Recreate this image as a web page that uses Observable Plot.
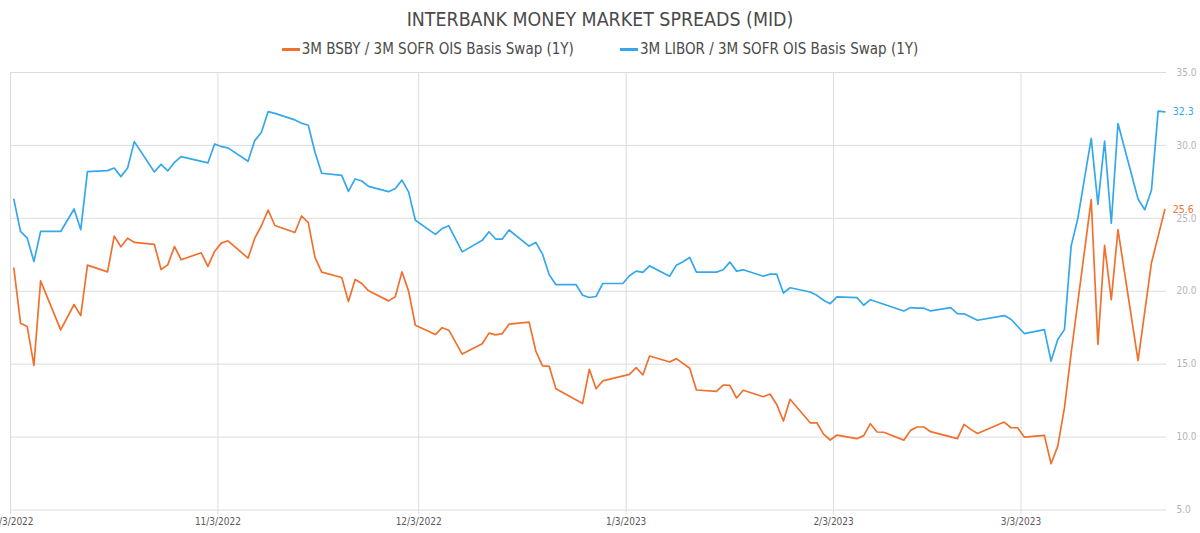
<!DOCTYPE html>
<html>
<head>
<meta charset="utf-8">
<script src="https://cdn.jsdelivr.net/npm/d3@7"></script>
<script src="https://cdn.jsdelivr.net/npm/@observablehq/plot@0.6"></script>
<style>
  html, body { margin: 0; padding: 0; background: #ffffff; }
  body { width: 1200px; height: 533px; overflow: hidden;
         font-family: "Liberation Sans Narrow", "DejaVu Sans Condensed", "Roboto Condensed", Roboto, sans-serif; }
  #header { position: relative; width: 1200px; height: 62px; }
  #title { position: absolute; left: 0; top: 7px; width: 1200px; text-align: center;
           font-size: 19.4px; line-height: 26px; color: #4a4a4a; }
  #legend { position: absolute; left: 0; top: 38px; width: 1200px; display: flex;
            justify-content: center; gap: 46px; font-size: 15px; line-height: 22px; color: #4a4a4a; }
  .item { display: flex; align-items: center; }
  .sw { display: inline-block; width: 18px; height: 3px; margin-right: 2px; }
  #chart svg { display: block; }
</style>
</head>
<body>
<div id="header">
  <div id="title"></div>
  <div id="legend"></div>
</div>
<div id="chart"></div>
<script>
const chartTitle = "INTERBANK MONEY MARKET SPREADS (MID)";
const seriesNames = ["3M BSBY / 3M SOFR OIS Basis Swap (1Y)", "3M LIBOR / 3M SOFR OIS Basis Swap (1Y)"];
const seriesColors = ["#F0712E", "#35A8EC"];

const bsbyDates = ["2022-10-03","2022-10-04","2022-10-05","2022-10-06","2022-10-07","2022-10-10","2022-10-12","2022-10-13","2022-10-14","2022-10-17","2022-10-18","2022-10-19","2022-10-20","2022-10-21","2022-10-24","2022-10-25","2022-10-26","2022-10-27","2022-10-28","2022-10-31","2022-11-01","2022-11-02","2022-11-03","2022-11-04","2022-11-07","2022-11-08","2022-11-09","2022-11-10","2022-11-11","2022-11-14","2022-11-15","2022-11-16","2022-11-17","2022-11-18","2022-11-21","2022-11-22","2022-11-23","2022-11-24","2022-11-25","2022-11-28","2022-11-29","2022-11-30","2022-12-01","2022-12-02","2022-12-05","2022-12-06","2022-12-07","2022-12-09","2022-12-12","2022-12-13","2022-12-14","2022-12-15","2022-12-16","2022-12-19","2022-12-20","2022-12-21","2022-12-22","2022-12-23","2022-12-27","2022-12-28","2022-12-29","2022-12-30","2023-01-03","2023-01-04","2023-01-05","2023-01-06","2023-01-09","2023-01-10","2023-01-12","2023-01-13","2023-01-16","2023-01-17","2023-01-18","2023-01-19","2023-01-20","2023-01-23","2023-01-24","2023-01-25","2023-01-26","2023-01-27","2023-01-30","2023-01-31","2023-02-01","2023-02-02","2023-02-03","2023-02-06","2023-02-07","2023-02-08","2023-02-09","2023-02-10","2023-02-13","2023-02-14","2023-02-15","2023-02-16","2023-02-17","2023-02-21","2023-02-22","2023-02-23","2023-02-24","2023-02-28","2023-03-01","2023-03-02","2023-03-03","2023-03-06","2023-03-07","2023-03-08","2023-03-09","2023-03-10","2023-03-13","2023-03-14","2023-03-15","2023-03-16","2023-03-17","2023-03-20","2023-03-22","2023-03-24"];
const bsbyValues = [21.58,17.81,17.58,14.92,20.71,17.35,19.09,18.33,21.79,21.33,23.78,23.05,23.64,23.35,23.21,21.49,21.81,23.07,22.16,22.64,21.70,22.73,23.30,23.46,22.27,23.64,24.49,25.57,24.51,24.03,25.16,24.70,22.32,21.31,20.94,19.29,20.81,20.53,20.03,19.34,19.62,21.33,19.99,17.67,17.03,17.50,17.33,15.69,16.40,17.13,17.01,17.10,17.74,17.88,15.90,14.88,14.85,13.32,12.31,14.65,13.32,13.85,14.30,14.76,14.26,15.56,15.15,15.38,14.72,13.23,13.14,13.57,13.55,12.68,13.21,12.77,12.95,12.24,11.10,12.59,10.98,10.98,10.20,9.80,10.14,9.89,10.10,10.92,10.35,10.33,9.79,10.46,10.69,10.69,10.37,9.89,10.87,10.53,10.25,11.03,10.64,10.64,10.00,10.12,8.17,9.38,12.00,15.75,26.28,16.35,23.15,19.43,24.22,15.25,21.94,25.60];

const liborDates = ["2022-10-03","2022-10-04","2022-10-05","2022-10-06","2022-10-07","2022-10-10","2022-10-12","2022-10-13","2022-10-14","2022-10-17","2022-10-18","2022-10-19","2022-10-20","2022-10-21","2022-10-24","2022-10-25","2022-10-26","2022-10-27","2022-10-28","2022-11-01","2022-11-02","2022-11-03","2022-11-04","2022-11-07","2022-11-08","2022-11-09","2022-11-10","2022-11-11","2022-11-14","2022-11-15","2022-11-16","2022-11-17","2022-11-18","2022-11-21","2022-11-22","2022-11-23","2022-11-24","2022-11-25","2022-11-28","2022-11-29","2022-11-30","2022-12-01","2022-12-02","2022-12-05","2022-12-06","2022-12-07","2022-12-09","2022-12-12","2022-12-13","2022-12-14","2022-12-15","2022-12-16","2022-12-19","2022-12-20","2022-12-21","2022-12-22","2022-12-23","2022-12-26","2022-12-27","2022-12-28","2022-12-29","2022-12-30","2023-01-02","2023-01-03","2023-01-04","2023-01-05","2023-01-06","2023-01-09","2023-01-10","2023-01-11","2023-01-12","2023-01-13","2023-01-16","2023-01-17","2023-01-18","2023-01-19","2023-01-20","2023-01-23","2023-01-24","2023-01-25","2023-01-26","2023-01-27","2023-01-30","2023-01-31","2023-02-01","2023-02-02","2023-02-03","2023-02-06","2023-02-07","2023-02-08","2023-02-13","2023-02-14","2023-02-15","2023-02-16","2023-02-17","2023-02-20","2023-02-21","2023-02-22","2023-02-24","2023-02-28","2023-03-01","2023-03-03","2023-03-06","2023-03-07","2023-03-08","2023-03-09","2023-03-10","2023-03-11","2023-03-13","2023-03-14","2023-03-15","2023-03-16","2023-03-17","2023-03-20","2023-03-21","2023-03-22","2023-03-23","2023-03-24"];
const liborValues = [26.30,24.10,23.64,22.04,24.10,24.10,25.64,24.22,28.20,28.27,28.45,27.86,28.45,30.26,28.18,28.70,28.25,28.84,29.23,28.80,30.10,29.92,29.83,28.91,30.33,30.90,32.32,32.20,31.75,31.52,31.38,29.53,28.09,27.95,26.85,27.70,27.56,27.19,26.83,27.05,27.62,26.80,24.87,23.90,24.30,24.49,22.70,23.49,24.08,23.58,23.58,24.20,23.10,23.35,22.55,21.13,20.46,20.46,19.73,19.57,19.64,20.53,20.53,21.06,21.38,21.29,21.74,21.03,21.79,22.02,22.32,21.31,21.31,21.47,22.00,21.38,21.47,21.03,21.17,21.17,19.88,20.24,19.95,19.72,19.38,19.15,19.62,19.56,19.04,19.42,18.65,18.88,18.84,18.84,18.65,18.88,18.47,18.45,18.01,18.33,18.08,17.10,17.37,15.21,16.69,17.37,23.10,25.00,30.48,25.96,30.30,24.66,31.50,26.33,25.59,26.92,32.35,32.30];

const xTickLabels = ["2022-10-03","2022-11-03","2022-12-03","2023-01-03","2023-02-03","2023-03-03"];
const yTickValues = [5, 10, 15, 20, 25, 30, 35];

const dayStart = s => new Date(s + "T00:00:00Z");
const atNoon = s => new Date(s + "T12:00:00Z");

const rows = [];
bsbyDates.forEach((d, i) => rows.push({series: seriesNames[0], date: atNoon(d), value: bsbyValues[i]}));
liborDates.forEach((d, i) => rows.push({series: seriesNames[1], date: atNoon(d), value: liborValues[i]}));
const lastPoints = [
  {series: seriesNames[0], date: atNoon(bsbyDates[bsbyDates.length - 1]), value: bsbyValues[bsbyValues.length - 1]},
  {series: seriesNames[1], date: atNoon(liborDates[liborDates.length - 1]), value: liborValues[liborValues.length - 1]}
];
const xTicks = xTickLabels.map(dayStart);
const fmtDate = d => `${d.getUTCMonth() + 1}/${d.getUTCDate()}/${d.getUTCFullYear()}`;

document.getElementById("title").textContent = chartTitle;
const legend = document.getElementById("legend");
seriesNames.forEach((n, i) => {
  const it = document.createElement("div"); it.className = "item";
  const sw = document.createElement("span"); sw.className = "sw"; sw.style.background = seriesColors[i];
  const tx = document.createElement("span"); tx.textContent = n;
  it.appendChild(sw); it.appendChild(tx); legend.appendChild(it);
});

const fontFam = '"Liberation Sans Narrow", "DejaVu Sans Condensed", "Roboto Condensed", Roboto, sans-serif';
const chart = Plot.plot({
  width: 1200,
  height: 471,
  marginLeft: 10,
  marginRight: 34,
  marginTop: 10,
  marginBottom: 23.5,
  style: {fontFamily: fontFam, background: "#ffffff", overflow: "visible"},
  x: {type: "utc", domain: [dayStart("2022-10-03"), new Date("2023-03-24T18:00:00Z")], label: null},
  y: {domain: [5, 35], label: null},
  color: {domain: seriesNames, range: seriesColors},
  marks: [
    Plot.gridY(yTickValues, {stroke: "#dcdcdc", strokeOpacity: 1, strokeWidth: 1}),
    Plot.gridX(xTicks, {stroke: "#dcdcdc", strokeOpacity: 1, strokeWidth: 1}),
    Plot.axisX(xTicks, {tickSize: 5, tickPadding: 3, stroke: "#dcdcdc", tickFormat: fmtDate, fontSize: 10, fill: "#5a5a5a", label: null}),
    Plot.axisY(yTickValues, {anchor: "right", tickSize: 0, tickPadding: 10, tickFormat: d => d.toFixed(1), fontSize: 10, fill: "#b4b4b4", label: null}),
    Plot.line(rows, {x: "date", y: "value", z: "series", stroke: "series", strokeWidth: 1.7, curve: "linear"}),
    Plot.text(lastPoints, {x: "date", y: "value", text: d => d.value.toFixed(1), fill: "series", textAnchor: "start", dx: 8, fontSize: 10.5, clip: false})
  ]
});
document.getElementById("chart").appendChild(chart);
</script>
</body>
</html>
